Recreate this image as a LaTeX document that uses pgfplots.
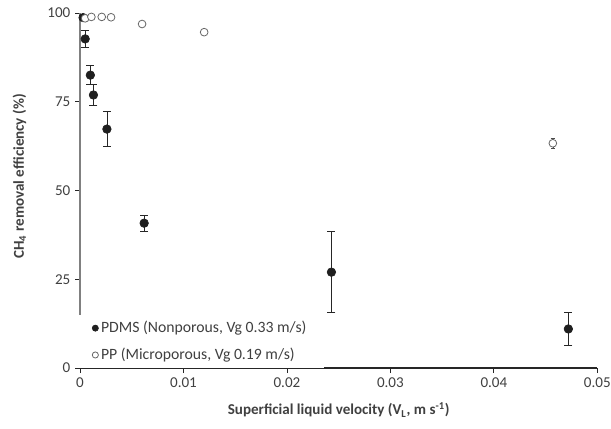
\documentclass[border=0pt]{standalone}
\usepackage{fontspec}
\setmainfont{Carlito}
\usepackage{pgfplots}
\usepackage{pgfplotstable}
\pgfplotsset{compat=1.18}
\usetikzlibrary{calc}

\pgfplotstableread{
x y e
0.0003 98.7 0.5
0.0005 92.7 2.3
0.0010 82.5 2.6
0.0013 76.9 3.0
0.0026 67.3 5.0
0.0062 40.8 2.2
0.0243 27.0 11.4
0.0472 11.0 4.7
}\pdms

\pgfplotstableread{
x y e
0.0005 98.5 0.5
0.0011 98.9 0.4
0.0021 98.9 0.4
0.0030 98.8 0.4
0.0060 96.9 0.7
0.0120 94.6 0.6
0.0457 63.3 1.4
}\pp

\definecolor{txt}{HTML}{404040}

\begin{document}
\begin{tikzpicture}
\begin{axis}[
  scale only axis,
  width=388pt, height=266.25pt,
  xmin=0, xmax=0.05, ymin=0, ymax=100,
  axis lines=left,
  axis line style={-},
  x axis line style={black!85, line width=0.8pt},
  y axis line style={black!50, line width=0.8pt},
  tick align=outside,
  major tick length=3.75pt,
  tick style={black!85, line width=0.6pt},
  xtick={0,0.01,0.02,0.03,0.04,0.05},
  xticklabels={0,0.01,0.02,0.03,0.04,0.05},
  scaled x ticks=false,
  ytick={0,25,50,75,100},
  /pgf/number format/assume math mode=true,
  tick label style={font=\fontsize{11.3}{13}\selectfont, text=txt},
  every axis x label/.style={at={(axis description cs:0.5,0)}, anchor=center, yshift=-31.5pt},
  every axis y label/.style={at={(axis description cs:-0.117,0.54)}, anchor=center, rotate=90},
  label style={font=\bfseries\fontsize{11.3}{13}\selectfont, text=txt},
  xlabel={Superficial liquid velocity (V\textsubscript{L}, m s\textsuperscript{-1})},
  ylabel={CH\textsubscript{4} removal efficiency (\%)},
  legend style={at={(rel axis cs:0,0)}, anchor=south west, xshift=-2pt, yshift=-0.5pt,
    draw=none, fill=white, font=\fontsize{11.8}{13}\selectfont, text=txt,
    inner xsep=11pt, inner ysep=3pt, row sep=6pt},
  legend cell align=left,
  legend image code/.code={\draw[mark repeat=2,mark phase=2,#1, mark size=2.3pt] plot coordinates {(0cm,0cm)(0.1cm,0cm)(0.2cm,0cm)};},
  clip=false,
]
\addplot+[only marks, mark=*, mark size=3.2pt, mark options={fill=black!88, draw=black!88, line width=0.5pt},
  error bars/.cd, y dir=both, y explicit,
  error bar style={black!85, line width=0.6pt},
  error mark options={rotate=90, mark size=3pt, line width=0.6pt, black!85}]
  table[x=x, y=y, y error=e] {\pdms};
\addlegendentry{PDMS (Nonporous, Vg 0.33 m/s)}
\addplot+[only marks, mark=*, mark size=2.9pt, mark options={fill=white, draw=black!60, line width=0.6pt},
  error bars/.cd, y dir=both, y explicit,
  error bar style={black!70, line width=0.5pt},
  error mark options={rotate=90, mark size=1.6pt, line width=0.5pt, black!70}]
  table[x=x, y=y, y error=e] {\pp};
\addlegendentry{PP (Microporous, Vg 0.19 m/s)}
\coordinate (ll) at (rel axis cs:0,0);
\coordinate (ur) at (rel axis cs:1,1);
\end{axis}
\pgfresetboundingbox
\path ($(ll)+(-60pt,-45pt)$) rectangle ($(ur)+(10.25pt,9.75pt)$);
\end{tikzpicture}
\end{document}
